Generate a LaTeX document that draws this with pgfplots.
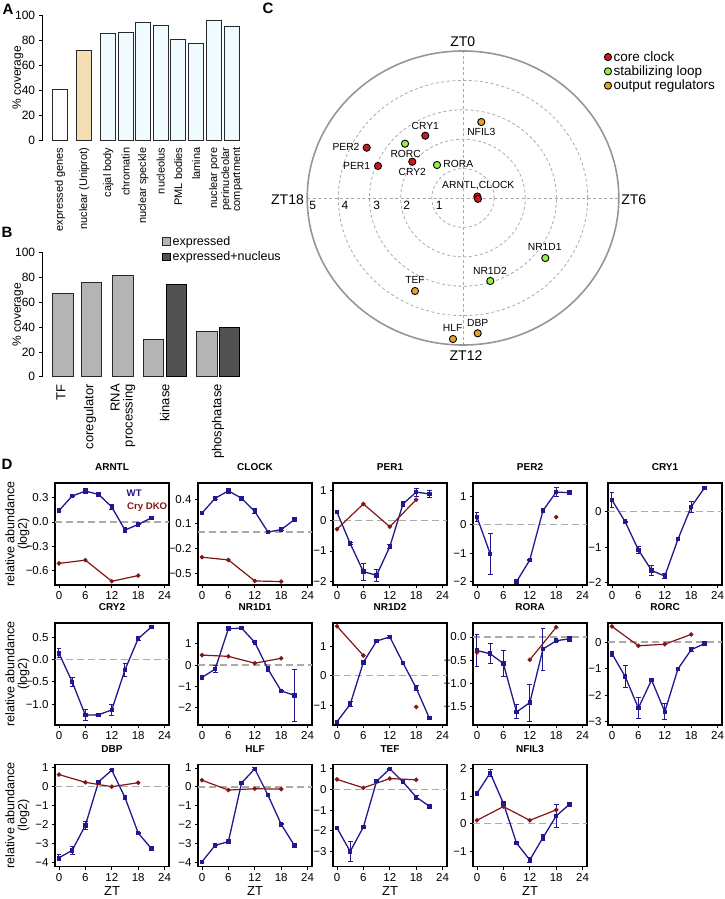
\documentclass[border=0pt]{standalone}
\usepackage{pgfplots}
\pgfplotsset{compat=1.18}
\usepackage{fontspec}
\setmainfont{Liberation Sans}

\definecolor{wtblue}{RGB}{32,24,140}
\definecolor{dkored}{RGB}{130,22,22}
\definecolor{zgray}{RGB}{170,170,170}
\definecolor{cgray}{RGB}{150,150,150}
\definecolor{cred}{RGB}{205,25,30}
\definecolor{cgreen}{RGB}{150,240,70}
\definecolor{corange}{RGB}{232,160,40}
\definecolor{nucwheat}{RGB}{243,222,180}
\definecolor{palecyan}{RGB}{240,251,255}
\definecolor{barlight}{RGB}{180,180,180}
\definecolor{bardark}{RGB}{82,82,82}
\definecolor{bedge}{RGB}{40,40,40}

\newcommand{\fs}[1]{\fontsize{#1}{#1}\selectfont}
\tikzset{ring/.style={color=zgray, line width=0.8pt, dash pattern=on 3pt off 2.5pt}}

\pgfplotsset{
  /pgf/number format/assume math mode=true,
  dpanel/.style={
    scale only axis, width=114pt, height=102pt, anchor=north west,
    xmin=-0.9, xmax=25, xtick={0,6,12,18,24},
    tick pos=left, tick align=outside, major tick length=3pt,
    axis line style={line width=1.2pt},
    tick style={black, line width=0.8pt},
    ticklabel style={font=\fs{11.5}},
    title style={font=\bfseries\fs{10}, at={(axis description cs:0.5,1.095)}, anchor=center},
  },
  rowlab/.style={ylabel={relative abundance\\(log2)},
    ylabel style={align=center, font=\fs{12.5}, at={(axis description cs:-0.33,0.5)}, anchor=center}},
  ztlab/.style={xlabel={ZT}, xlabel style={font=\fs{13}, at={(axis description cs:0.5,-0.245)}, anchor=center}},
  zl/.style={color=zgray, line width=1.4pt, dash pattern=on 7pt off 4pt, forget plot},
  wt/.style={color=wtblue, line width=1.3pt, mark=square*, mark size=1.6pt,
    error bars/y dir=both, error bars/y explicit, error bars/error mark=|,
    error bars/error bar style={line width=1pt},
    error bars/error mark options={line width=1pt, mark size=2.4pt}},
  dko/.style={color=dkored, line width=1.2pt, mark=*, mark size=1.6pt},
  bpanel/.style={
    scale only axis, width=198.3pt, anchor=south west,
    xmin=42.7, xmax=241, ymin=0, ymax=100,
    axis y line*=left, axis x line*=bottom,
    x axis line style={draw=none}, xtick style={draw=none},
    y axis line style={line width=0.8pt},
    ytick={0,20,40,60,80,100}, ytick style={black, line width=0.8pt},
    tick align=outside, major tick length=4pt,
    yticklabel style={font=\fs{12}},
    xticklabel style={rotate=90, anchor=east, align=right},
    ylabel={\% coverage},
    ylabel style={font=\fs{12}, at={(axis description cs:-0.125,0.5)}, anchor=center},
  },
}

\begin{document}
\begin{tikzpicture}
\useasboundingbox (0pt,0pt) rectangle (724pt,-899pt);

% ---------------- panel letters
\node[font=\bfseries\fs{15}] at (8pt,-9pt) {A};
\node[font=\bfseries\fs{15}] at (7pt,-232pt) {B};
\node[font=\bfseries\fs{15}] at (268pt,-8pt) {C};
\node[font=\bfseries\fs{15}] at (7pt,-464pt) {D};

% ---------------- A
\begin{axis}[bpanel, at={(42.7pt,-140pt)}, height=124.3pt,
  xtick={60,84.2,108.2,125.8,143.2,160.8,178.3,196.2,214.2,231.7},
  xticklabels={expressed genes,nuclear (Uniprot),cajal body,chromatin,nuclear speckle,nucleolus,PML bodies,lamina,nuclear pore,{perinucleolar\\compartment}},
  xticklabel style={font=\fs{11}}]
\addplot[ybar, bar width=15, fill=white, draw=bedge, line width=0.9pt] coordinates {(60,40.75)};
\addplot[ybar, bar width=15, fill=nucwheat, draw=bedge, line width=0.9pt] coordinates {(84.2,72.1)};
\addplot[ybar, bar width=15, fill=palecyan, draw=bedge, line width=0.9pt] coordinates {
  (108.2,86.1) (125.8,86.9) (143.2,94.4) (160.8,92.0) (178.3,81.0) (196.2,77.7) (214.2,96.0) (231.7,91.7)};
\end{axis}

% ---------------- B
\begin{axis}[bpanel, at={(42.7pt,-376.7pt)}, height=124pt,
  xtick={61,90,123,164.8,218},
  xticklabels={TF,coregulator,{RNA\\processing},kinase,phosphatase},
  xticklabel style={font=\fs{13}},
  legend style={at={(0.6,1.15)}, anchor=north west, draw=none, fill=none,
    font=\fs{12.5}, row sep=1pt, inner sep=0pt},
  legend cell align=left,
  legend image code/.code={\draw[#1, line width=0.8pt] (0pt,-3.5pt) rectangle (8pt,4pt);}]
\addplot[ybar, bar width=20.5, fill=barlight, draw=bedge, line width=0.9pt] coordinates {
  (62.7,66.9) (91.3,76.1) (122.8,81.7) (153.3,29.8) (206.7,36.8)};
\addlegendentry{expressed}
\addplot[ybar, bar width=20.5, fill=bardark, draw=black, line width=0.9pt] coordinates {
  (176.3,74.7) (229.3,40.0)};
\addlegendentry{expressed+nucleus}
\end{axis}

% ---------------- C
\begin{axis}[at={(307.2pt,-345pt)}, anchor=south west, scale only axis,
  width=311.6pt, height=294pt, xmin=-5, xmax=5, ymin=-5, ymax=5,
  axis lines=none, clip=false,
  legend style={at={(0.953,1.006)}, anchor=north west, draw=none, fill=none,
    font=\fs{13.5}, inner sep=0pt, row sep=-1pt},
  legend cell align=left]
\draw[ring] (axis cs:0,0) ellipse [x radius=31.16pt, y radius=29.4pt];
\draw[ring] (axis cs:0,0) ellipse [x radius=62.32pt, y radius=58.8pt];
\draw[ring] (axis cs:0,0) ellipse [x radius=93.48pt, y radius=88.2pt];
\draw[ring] (axis cs:0,0) ellipse [x radius=124.64pt, y radius=117.6pt];
\draw[ring] (axis cs:-5,0) -- (axis cs:5,0);
\draw[ring] (axis cs:0,-5) -- (axis cs:0,5);
\draw[color=cgray, line width=1.6pt] (axis cs:0,0) ellipse [x radius=155.8pt, y radius=147pt];
\addplot[only marks, mark=*, mark size=3.6pt, mark options={fill=cred, draw=black, line width=0.9pt}]
  coordinates {(0.46,0.05) (0.48,-0.03) (-1.21,2.119) (-3.09,1.711) (-2.728,1.088) (-1.627,1.235)};
\addlegendentry{core clock}
\addplot[only marks, mark=*, mark size=3.6pt, mark options={fill=cgreen, draw=black, line width=0.9pt}]
  coordinates {(-1.861,1.847) (-0.834,1.122) (2.641,-2.041) (0.876,-2.823)};
\addlegendentry{stabilizing loop}
\addplot[only marks, mark=*, mark size=3.6pt, mark options={fill=corange, draw=black, line width=0.9pt}]
  coordinates {(0.587,2.585) (-1.54,-3.163) (0.472,-4.602) (-0.321,-4.796)};
\addlegendentry{output regulators}
\node[font=\fs{10.3}, inner sep=0pt] at (axis cs:0.587,2.255) {NFIL3};
\node[font=\fs{10.3}, inner sep=0pt] at (axis cs:-1.21,2.459) {CRY1};
\node[font=\fs{10.3}, inner sep=0pt] at (axis cs:-3.755,1.745) {PER2};
\node[font=\fs{10.3}, inner sep=0pt] at (axis cs:-1.84,1.507) {RORC};
\node[font=\fs{10.3}, inner sep=0pt] at (axis cs:-3.412,1.099) {PER1};
\node[font=\fs{10.3}, inner sep=0pt] at (axis cs:-1.627,0.895) {CRY2};
\node[font=\fs{10.3}, inner sep=0pt] at (axis cs:-0.151,1.146) {RORA};
\node[font=\fs{10.3}, inner sep=0pt] at (axis cs:0.491,0.418) {ARNTL,CLOCK};
\node[font=\fs{10.3}, inner sep=0pt] at (axis cs:2.622,-1.677) {NR1D1};
\node[font=\fs{10.3}, inner sep=0pt] at (axis cs:0.866,-2.473) {NR1D2};
\node[font=\fs{10.3}, inner sep=0pt] at (axis cs:-1.54,-2.789) {TEF};
\node[font=\fs{10.3}, inner sep=0pt] at (axis cs:0.472,-4.241) {DBP};
\node[font=\fs{10.3}, inner sep=0pt] at (axis cs:-0.331,-4.432) {HLF};
\end{axis}
\node[font=\fs{14}] at (462.7pt,-41.7pt) {ZT0};
\node[font=\fs{14}] at (633.8pt,-199.3pt) {ZT6};
\node[font=\fs{14}] at (466pt,-356pt) {ZT12};
\node[font=\fs{14}] at (287.5pt,-200pt) {ZT18};
\node[font=\fs{12}] at (312.7pt,-205pt) {5};
\node[font=\fs{12}] at (345pt,-205pt) {4};
\node[font=\fs{12}] at (376.7pt,-205pt) {3};
\node[font=\fs{12}] at (406.7pt,-205pt) {2};
\node[font=\fs{12}] at (439.3pt,-205pt) {1};

% ---------------- D row 1
\begin{axis}[dpanel, rowlab, at={(55pt,-483pt)}, title={ARNTL},
  ymin=-0.776, ymax=0.48, ytick={0.3,0,-0.3,-0.6}, yticklabels={0.3,0.0,−0.3,−0.6}]
\addplot[zl] coordinates {(-0.9,0) (25,0)};
\addplot[wt] coordinates {(0,0.14) +- (0,0.01) (3,0.32) +- (0,0.01) (6,0.38) +- (0,0.03) (9,0.34) +- (0,0.01)
  (12,0.185) +- (0,0.03) (15,-0.10) +- (0,0.03) (18,-0.03) +- (0,0.005) (21,0.05) +- (0,0.005)};
\addplot[dko] coordinates {(0,-0.51) (6,-0.47) (12,-0.73) (18,-0.66)};
\end{axis}
\node[anchor=west, font=\bfseries\fs{9.6}, text=wtblue, inner sep=0pt] at (126.5pt,-493.3pt) {WT};
\node[anchor=west, font=\bfseries\fs{9.6}, text=dkored, inner sep=0pt] at (127pt,-506.7pt) {Cry DKO};

\begin{axis}[dpanel, at={(198pt,-483pt)}, title={CLOCK},
  ymin=-0.642, ymax=0.595, ytick={0.4,0.1,-0.2,-0.5}, yticklabels={0.4,0.1,−0.2,−0.5}]
\addplot[zl] coordinates {(-0.9,0) (25,0)};
\addplot[wt] coordinates {(0,0.23) +- (0,0.02) (3,0.41) +- (0,0.01) (6,0.50) +- (0,0.03) (9,0.41) +- (0,0.01)
  (12,0.25) +- (0,0.03) (15,0.0) +- (0,0.02) (18,0.03) +- (0,0.01) (21,0.15) +- (0,0.02)};
\addplot[dko] coordinates {(0,-0.305) (6,-0.338) (12,-0.593) (18,-0.60)};
\end{axis}

\begin{axis}[dpanel, at={(333pt,-483pt)}, title={PER1},
  ymin=-2.12, ymax=1.24, ytick={1,0,-1,-2}, yticklabels={1,0,−1,−2}]
\addplot[zl] coordinates {(-0.9,0) (25,0)};
\addplot[wt] coordinates {(0,0.28) +- (0,0.05) (3,-0.75) +- (0,0.02) (6,-1.68) +- (0,0.28) (9,-1.80) +- (0,0.2)
  (12,-0.86) +- (0,0.06) (15,0.55) +- (0,0.07) (18,0.94) +- (0,0.13) (21,0.88) +- (0,0.12)};
\addplot[dko] coordinates {(0,-0.28) (6,0.55) (12,-0.2) (18,0.69)};
\end{axis}

\begin{axis}[dpanel, at={(473pt,-483pt)}, title={PER2},
  ymin=-2.12, ymax=1.47, ytick={1,0,-1,-2}, yticklabels={1,0,−1,−2}]
\addplot[zl] coordinates {(-0.9,0) (25,0)};
\addplot[wt] coordinates {(0,0.27) +- (0,0.17) (3,-1.02) +- (0,0.72)};
\addplot[wt] coordinates {(9,-2.0) +- (0,0) (12,-1.24) +- (0,0.02) (15,0.5) +- (0,0.07) (18,1.15) +- (0,0.15) (21,1.13) +- (0,0.04)};
\addplot[dko] coordinates {(18,0.27)};
\end{axis}

\begin{axis}[dpanel, at={(608pt,-483pt)}, title={CRY1},
  ymin=-2.06, ymax=0.81, ytick={0,-1,-2}, yticklabels={0,−1,−2}]
\addplot[zl] coordinates {(-0.9,0) (25,0)};
\addplot[wt] coordinates {(0,0.33) +- (0,0.2) (3,-0.28) +- (0,0.02) (6,-1.07) +- (0,0.1) (9,-1.65) +- (0,0.15)
  (12,-1.81) +- (0,0.08) (15,-0.77) +- (0,0.03) (18,0.14) +- (0,0.15) (21,0.67) +- (0,0.03)};
\end{axis}

% ---------------- D row 2
\begin{axis}[dpanel, rowlab, at={(55pt,-623pt)}, title={CRY2},
  ymin=-1.47, ymax=0.82, ytick={0.5,0,-0.5,-1}, yticklabels={0.5,0.0,−0.5,−1.0}]
\addplot[zl] coordinates {(-0.9,0) (25,0)};
\addplot[wt] coordinates {(0,0.14) +- (0,0.1) (3,-0.5) +- (0,0.1) (6,-1.25) +- (0,0.12) (9,-1.24) +- (0,0.01)
  (12,-1.13) +- (0,0.12) (15,-0.23) +- (0,0.15) (18,0.47) +- (0,0.05) (21,0.73) +- (0,0.01)};
\end{axis}

\begin{axis}[dpanel, at={(198pt,-623pt)}, title={NR1D1},
  ymin=-2.82, ymax=1.98, ytick={1,0,-1,-2}, yticklabels={1,0,−1,−2}]
\addplot[zl] coordinates {(-0.9,0) (25,0)};
\addplot[wt] coordinates {(0,-0.58) +- (0,0) (3,-0.19) +- (0,0.15) (6,1.71) +- (0,0.03) (9,1.74) +- (0,0.05)
  (12,1.07) +- (0,0.02) (15,-0.19) +- (0,0.1) (18,-1.22) +- (0,0.03) (21,-1.42) +- (0,1.22)};
\addplot[dko] coordinates {(0,0.47) (6,0.41) (12,0.09) (18,0.32)};
\end{axis}

\begin{axis}[dpanel, at={(333pt,-623pt)}, title={NR1D2},
  ymin=-1.67, ymax=1.78, ytick={1,0,-1}, yticklabels={1,0,−1}]
\addplot[zl] coordinates {(-0.9,0) (25,0)};
\addplot[wt] coordinates {(0,-1.56) +- (0,0) (3,-0.97) +- (0,0.08) (6,0.45) +- (0,0.05) (9,1.17) +- (0,0.02)
  (12,1.31) +- (0,0.05) (15,0.43) +- (0,0.02) (18,-0.42) +- (0,0.08) (21,-1.44) +- (0,0.02)};
\addplot[dko] coordinates {(0,1.67) (6,0.68)};
\addplot[dko] coordinates {(18,-1.06)};
\end{axis}

\begin{axis}[dpanel, at={(473pt,-623pt)}, title={RORA},
  ymin=-1.89, ymax=0.30, ytick={0,-0.5,-1,-1.5}, yticklabels={0.0,−0.5,−1.0,−1.5}]
\addplot[zl] coordinates {(-0.9,0) (25,0)};
\addplot[wt] coordinates {(0,-0.29) +- (0,0.34) (3,-0.36) +- (0,0.21) (6,-0.57) +- (0,0.27) (9,-1.61) +- (0,0.15)
  (12,-1.41) +- (0,0.4) (15,-0.26) +- (0,0.45) (18,-0.08) +- (0,0.01) (21,-0.04) +- (0,0.05)};
\addplot[dko] coordinates {(0,-0.33)};
\addplot[dko] coordinates {(12,-0.49) (18,0.21)};
\end{axis}

\begin{axis}[dpanel, at={(608pt,-623pt)}, title={RORC},
  ymin=-3.13, ymax=0.72, ytick={0,-1,-2,-3}, yticklabels={0,−1,−2,−3}]
\addplot[zl] coordinates {(-0.9,0) (25,0)};
\addplot[wt] coordinates {(0,-0.44) +- (0,0.1) (3,-1.30) +- (0,0.4) (6,-2.49) +- (0,0.4) (9,-1.43) +- (0,0.02)
  (12,-2.63) +- (0,0.3) (15,-1.01) +- (0,0.03) (18,-0.29) +- (0,0.08) (21,-0.06) +- (0,0.02)};
\addplot[dko] coordinates {(0,0.59) (6,-0.14) (12,-0.08) (18,0.29)};
\end{axis}

% ---------------- D row 3
\begin{axis}[dpanel, rowlab, ztlab, at={(55pt,-764.5pt)}, title={DBP},
  ymin=-4.21, ymax=1.17, ytick={1,0,-1,-2,-3,-4}, yticklabels={1,0,−1,−2,−3,−4}]
\addplot[zl] coordinates {(-0.9,0) (25,0)};
\addplot[wt] coordinates {(0,-3.75) +- (0,0.15) (3,-3.36) +- (0,0.2) (6,-2.04) +- (0,0.2) (9,0.26) +- (0,0.05)
  (12,0.87) +- (0,0.05) (15,-0.57) +- (0,0.1) (18,-2.44) +- (0,0.05) (21,-3.27) +- (0,0.1)};
\addplot[dko] coordinates {(0,0.64) (6,0.23) (12,0.0) (18,0.21)};
\end{axis}

\begin{axis}[dpanel, ztlab, at={(198pt,-764.5pt)}, title={HLF},
  ymin=-4.21, ymax=1.18, ytick={1,0,-1,-2,-3,-4}, yticklabels={1,0,−1,−2,−3,−4}]
\addplot[zl] coordinates {(-0.9,0) (25,0)};
\addplot[wt] coordinates {(0,-3.96) +- (0,0.03) (3,-3.09) +- (0,0.02) (6,-2.9) +- (0,0.03) (9,0.21) +- (0,0.04)
  (12,0.95) +- (0,0.05) (15,-0.44) +- (0,0.05) (18,-1.98) +- (0,0.03) (21,-3.1) +- (0,0.02)};
\addplot[dko] coordinates {(0,0.35) (6,-0.17) (12,-0.1) (18,-0.12)};
\end{axis}

\begin{axis}[dpanel, ztlab, at={(333pt,-764.5pt)}, title={TEF},
  ymin=-3.73, ymax=1.21, ytick={1,0,-1,-2,-3}, yticklabels={1,0,−1,−2,−3}]
\addplot[zl] coordinates {(-0.9,0) (25,0)};
\addplot[wt] coordinates {(0,-1.86) +- (0,0.03) (3,-3.0) +- (0,0.47) (6,-1.82) +- (0,0.05) (9,0.4) +- (0,0.03)
  (12,1.0) +- (0,0.02) (15,0.37) +- (0,0.1) (18,-0.37) +- (0,0.1) (21,-0.81) +- (0,0.1)};
\addplot[dko] coordinates {(0,0.49) (6,0.08) (12,0.53) (18,0.47)};
\end{axis}

\begin{axis}[dpanel, ztlab, at={(473pt,-764.5pt)}, title={NFIL3},
  ymin=-1.56, ymax=2.15, ytick={2,1,0,-1}, yticklabels={2,1,0,−1}]
\addplot[zl] coordinates {(-0.9,0) (25,0)};
\addplot[wt] coordinates {(0,1.10) +- (0,0.03) (3,1.84) +- (0,0.12) (6,0.74) +- (0,0.05) (9,-0.71) +- (0,0.02)
  (12,-1.32) +- (0,0.08) (15,-0.51) +- (0,0.1) (18,0.28) +- (0,0.42) (21,0.70) +- (0,0.07)};
\addplot[dko] coordinates {(0,0.12) (6,0.62) (12,0.12) (18,0.5)};
\end{axis}
\end{tikzpicture}
\end{document}
